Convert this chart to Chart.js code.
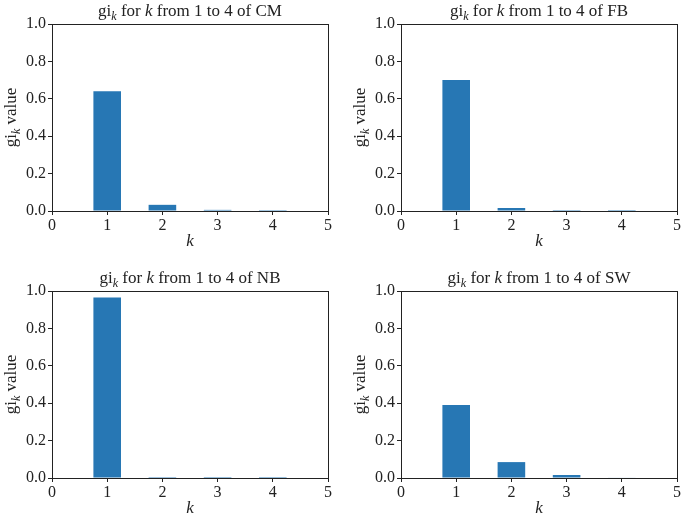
<!DOCTYPE html>
<html>
<head>
<meta charset="utf-8">
<script src="https://cdn.jsdelivr.net/npm/chart.js@4.4.1/dist/chart.umd.min.js"></script>
<style>
    body { margin: 0; background: #fff; }
    .panel { position: absolute; }
</style>
</head>
<body>
<div class="panel" style="left:0;top:0"><canvas id="chartCM" width="342" height="259"></canvas></div>
<div class="panel" style="left:342px;top:0"><canvas id="chartFB" width="343" height="259"></canvas></div>
<div class="panel" style="left:0;top:259px"><canvas id="chartNB" width="342" height="259"></canvas></div>
<div class="panel" style="left:342px;top:259px"><canvas id="chartSW" width="343" height="259"></canvas></div>
<script>
// gi_k values for k = 1..4
const kValues = [1, 2, 3, 4];
const giCM = [0.64, 0.033, 0.006, 0.0005];
const giFB = [0.70, 0.016, 0.0004, 0.0002];
const giNB = [0.965, 0.0003, 0.0001, 0.0001];
const giSW = [0.39, 0.085, 0.016, 0.003];
const xTicks = [0, 1, 2, 3, 4, 5];
const yTicks = [0, 0.2, 0.4, 0.6, 0.8, 1.0];

const FONT = "'Liberation Serif', serif";
const TICK_SIZE = 16;
const LABEL_SIZE = 17;

// draws centred text made of parts, some italic and some subscript
function drawRich(ctx, parts, x, y, size) {
    const fontOf = p => (p.italic ? "italic " : "") + (p.sub ? Math.round(size * 0.7) : size) + "px " + FONT;
    const widths = parts.map(p => {
        ctx.font = fontOf(p);
        return ctx.measureText(p.t).width;
    });
    let cx = x - widths.reduce((a, b) => a + b, 0) / 2;
    ctx.textAlign = "left";
    ctx.textBaseline = "alphabetic";
    parts.forEach((p, i) => {
        ctx.font = fontOf(p);
        ctx.fillText(p.t, cx, y + (p.sub ? 3.5 : 0));
        cx += widths[i];
    });
}

const subLabels = {
    id: "subLabels",
    afterDraw(chart, args, opts) {
        const ctx = chart.ctx;
        const a = chart.chartArea;
        const cx = (a.left + a.right) / 2;
        const cy = (a.top + a.bottom) / 2;
        ctx.save();
        ctx.strokeStyle = "#222";
        ctx.lineWidth = 1;
        ctx.strokeRect(Math.round(a.left) + 0.5, Math.round(a.top) + 0.5,
            Math.round(a.right - a.left), Math.round(a.bottom - a.top));
        ctx.fillStyle = "#222";
        drawRich(ctx, [
            { t: "gi" }, { t: "k", italic: true, sub: true },
            { t: " for " }, { t: "k", italic: true },
            { t: " from 1 to 4 of " + opts.name }
        ], cx, a.top - 8, LABEL_SIZE);
        drawRich(ctx, [{ t: "k", italic: true }], cx, a.bottom + 35, LABEL_SIZE);
        ctx.translate(a.left - 36, cy);
        ctx.rotate(-Math.PI / 2);
        drawRich(ctx, [{ t: "gi" }, { t: "k", italic: true, sub: true }, { t: " value" }], 0, 0, LABEL_SIZE);
        ctx.restore();
    }
};

function renderPanel(id, name, values, padTop, padRight, yWidth, xHeight) {
    new Chart(document.getElementById(id), {
        type: "bar",
        data: {
            datasets: [{
                data: kValues.map((k, i) => ({ x: k, y: values[i] })),
                backgroundColor: "#2777b4",
                borderWidth: 0,
                barPercentage: 0.5,
                categoryPercentage: 1.0
            }]
        },
        options: {
            responsive: false,
            animation: false,
            devicePixelRatio: 1,
            layout: { padding: { top: padTop, right: padRight, left: 0, bottom: 0 } },
            plugins: {
                legend: { display: false },
                tooltip: { enabled: false },
                subLabels: { name: name }
            },
            scales: {
                x: {
                    type: "linear",
                    min: xTicks[0],
                    max: xTicks[xTicks.length - 1],
                    offset: false,
                    afterBuildTicks: s => { s.ticks = xTicks.map(v => ({ value: v })); },
                    afterFit: s => { s.height = xHeight; },
                    grid: { offset: false, drawOnChartArea: false, drawTicks: true, tickLength: 4, color: "#222" },
                    border: { display: false },
                    ticks: { color: "#222", padding: 1, maxRotation: 0, font: { family: FONT, size: TICK_SIZE }, callback: v => v }
                },
                y: {
                    min: yTicks[0],
                    max: yTicks[yTicks.length - 1],
                    afterBuildTicks: s => { s.ticks = yTicks.map(v => ({ value: v })); },
                    afterFit: s => { s.width = yWidth; },
                    grid: { drawOnChartArea: false, drawTicks: true, tickLength: 4, color: "#222" },
                    border: { display: false },
                    ticks: { color: "#222", padding: 2, font: { family: FONT, size: TICK_SIZE }, callback: v => v.toFixed(1) }
                }
            }
        },
        plugins: [subLabels]
    });
}

renderPanel("chartCM", "CM", giCM, 24, 14, 52, 48);
renderPanel("chartFB", "FB", giFB, 24, 8, 59, 48);
renderPanel("chartNB", "NB", giNB, 32, 14, 52, 40);
renderPanel("chartSW", "SW", giSW, 32, 8, 59, 40);
</script>
</body>
</html>
